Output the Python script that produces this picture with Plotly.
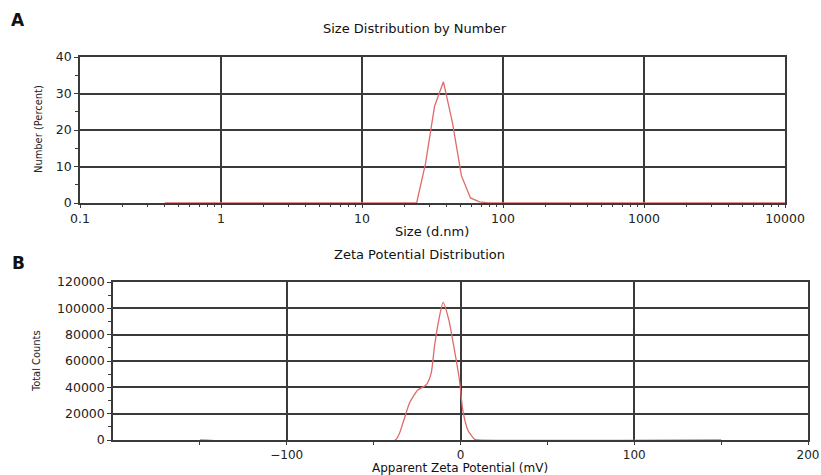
import plotly.graph_objects as go

# ---- Panel A: Size distribution by number ----
size_nm = [0.4, 24.4, 28.2, 32.7, 37.8, 43.8, 50.7, 58.8, 68.1, 78.8, 10000]
number_pct = [0, 0, 10.8, 26.5, 33.2, 22.0, 7.5, 1.4, 0.3, 0, 0]
size_tickvals = [0.1, 1, 10, 100, 1000, 10000]
size_ticktext = ["0.1", "1", "10", "100", "1000", "10000"]

# ---- Panel B: Zeta potential distribution ----
zeta_mv = [-150, -37.5, -33.2, -29.4, -24.6, -19.8, -16.9, -15.0, -12.5, -10.0,
           -6.7, -3.5, -0.6, 1.3, 4.2, 8.1, 10.0, 150]
total_counts = [0, 0, 12700, 27900, 38000, 41800, 50600, 70900, 91100, 104500,
                91100, 68400, 45600, 22800, 7600, 500, 0, 0]
zeta_tickvals = [-100, 0, 100, 200]

RED = "#e06a6a"
GRID = "#3a3a3a"
FONT = "DejaVu Sans"
NARROW = "Liberation Sans Narrow, DejaVu Sans Condensed, Liberation Sans"

W, H = 821, 475


def px(X):
    return X / W


def py(Y):
    return 1 - Y / H


fig = go.Figure()
fig.add_trace(go.Scatter(x=size_nm, y=number_pct, mode="lines",
                         line=dict(color=RED, width=1.3), xaxis="x", yaxis="y",
                         showlegend=False, hoverinfo="skip"))
fig.add_trace(go.Scatter(x=zeta_mv, y=total_counts, mode="lines",
                         line=dict(color=RED, width=1.3, shape="spline", smoothing=0.6),
                         xaxis="x2", yaxis="y2",
                         showlegend=False, hoverinfo="skip"))

tickfont = dict(family=FONT, size=12.5, color="#222")
common = dict(showline=True, linecolor=GRID, linewidth=1.5, mirror=True,
              showgrid=True, gridcolor=GRID, gridwidth=1.5, zeroline=False,
              ticks="outside", tickcolor=GRID,
              automargin=False, ticklabeloverflow="allow")

fig.update_layout(
    width=W, height=H,
    margin=dict(l=0, r=0, t=0, b=0),
    paper_bgcolor="white", plot_bgcolor="white",
    xaxis=dict(domain=[px(80), px(785)], anchor="y", type="log",
               range=[-1, 4], tickvals=size_tickvals, ticktext=size_ticktext, ticklen=3,
               tickfont=tickfont,
               minor=dict(ticks="outside", ticklen=2, tickcolor=GRID, dtick="D1", showgrid=False),
               **common),
    yaxis=dict(domain=[py(203), py(57)], anchor="x", range=[0, 40], dtick=10, ticklen=4,
               tickfont=tickfont,
               minor=dict(ticks="outside", ticklen=3, tickcolor=GRID, dtick=5, showgrid=False),
               **common),
    xaxis2=dict(domain=[px(113), px(808)], anchor="y2", range=[-200, 200],
                tickvals=zeta_tickvals, ticklen=3,
                tickfont=dict(family=FONT, size=12, color="#222"),
                minor=dict(ticks="outside", ticklen=3, tickcolor=GRID, tickvals=[-150, -50, 50, 150], showgrid=False),
                **common),
    yaxis2=dict(domain=[py(440), py(282)], anchor="x2", range=[0, 120000], dtick=20000,
                tickformat="d", ticklen=4, tickfont=tickfont,
                minor=dict(ticks="outside", ticklen=3, tickcolor=GRID, dtick=10000, showgrid=False),
                **common),
)

ann = [
    dict(text="<b>A</b>", x=9, y=20, size=17, xanchor="left", family=FONT),
    dict(text="Size Distribution by Number", x=415, y=29, size=13, xanchor="center", family=FONT),
    dict(text="Size (d.nm)", x=432, y=231, size=13, xanchor="center", family=FONT),
    dict(text="<b>B</b>", x=10, y=263, size=17, xanchor="left", family=FONT),
    dict(text="Zeta Potential Distribution", x=419, y=254, size=13, xanchor="center", family=FONT),
    dict(text="Apparent Zeta Potential (mV)", x=460, y=468, size=12, xanchor="center", family=FONT),
]
for a in ann:
    fig.add_annotation(text=a["text"], x=px(a["x"]), y=py(a["y"]),
                       xref="paper", yref="paper", showarrow=False,
                       xanchor=a["xanchor"], yanchor="middle",
                       font=dict(family=a["family"], size=a["size"], color="#111"))

for txt, x, y in [("Number (Percent)", 38, 129), ("Total Counts", 36, 361)]:
    fig.add_annotation(text=txt, x=px(x), y=py(y), xref="paper", yref="paper",
                       showarrow=False, textangle=-90, xanchor="center", yanchor="middle",
                       font=dict(family=NARROW, size=11, color="#222"))

fig.write_html(
    "out.html",
    config={"displayModeBar": False},
    post_script="document.body.style.margin='0';document.body.style.overflow='hidden';",
)
